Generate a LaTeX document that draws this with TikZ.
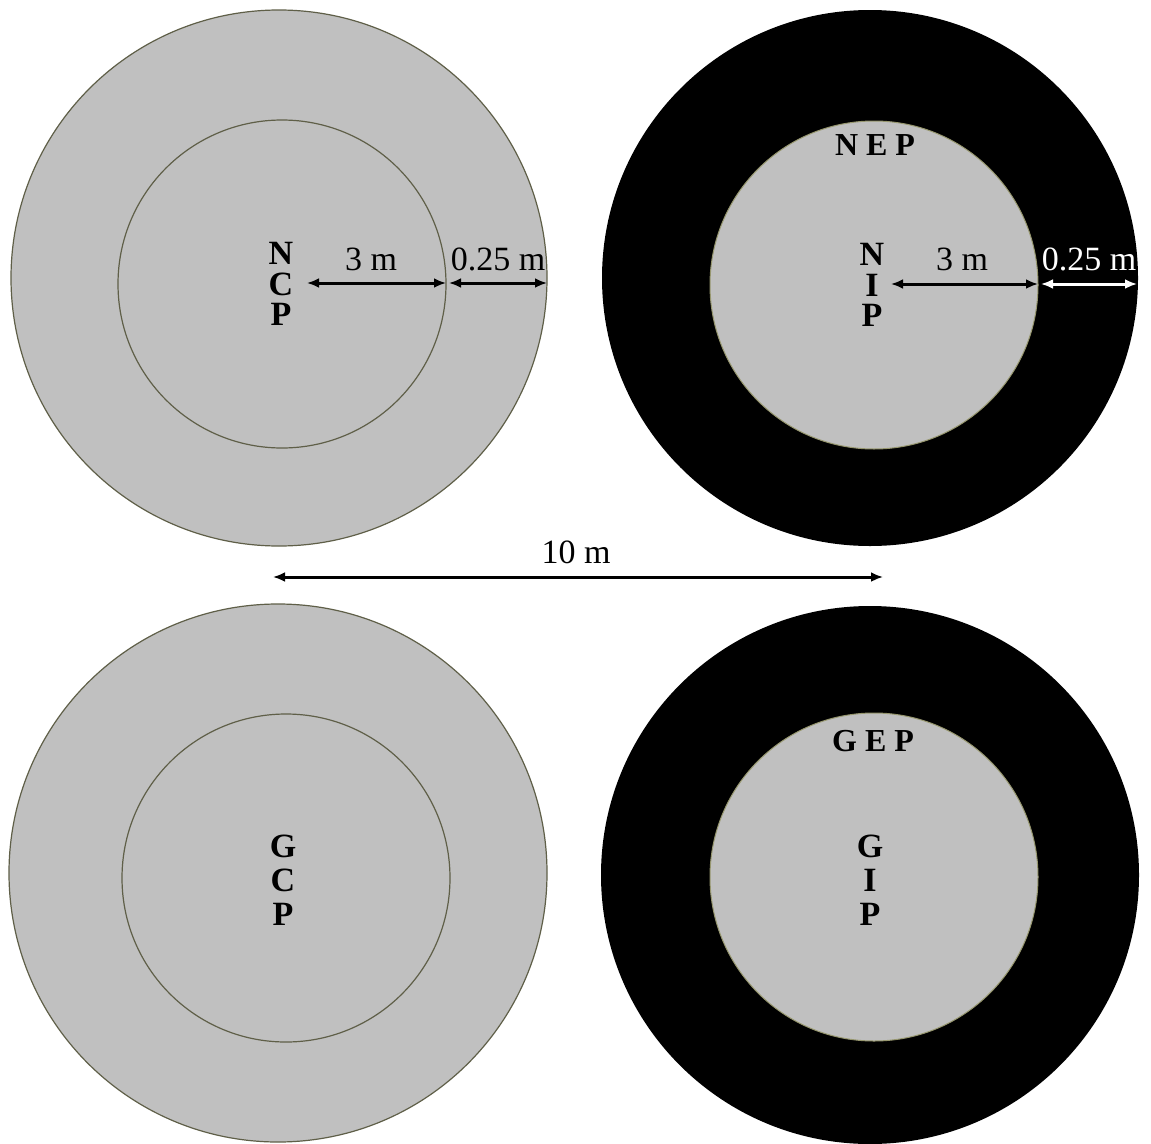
\documentclass[tikz,border=0pt]{standalone}
\usepackage{fontspec}
\setmainfont{Liberation Serif}
\usetikzlibrary{arrows.meta}
\definecolor{plotgray}{RGB}{192,192,192}
\definecolor{edgecol}{RGB}{95,95,72}
\definecolor{edgelight}{RGB}{150,150,110}
\begin{document}
\begin{tikzpicture}[x=1pt,y=-1pt,
  outline/.style={draw=edgecol,line width=1.2pt},
  innerline/.style={draw=edgelight,line width=1pt},
  dimarrow/.style={{Latex[length=12pt,width=10pt]}-{Latex[length=12pt,width=10pt]},line width=3pt},
  numlbl/.style={font=\fontsize{34}{40}\selectfont,inner sep=0pt,anchor=base},
  stacktop/.style={font=\fontsize{34}{30.5}\selectfont\bfseries,align=center,inner sep=0pt,anchor=center},
  stackbot/.style={font=\fontsize{34}{34}\selectfont\bfseries,align=center,inner sep=0pt,anchor=center},
  toplbl/.style={font=\fontsize{32}{40}\selectfont\bfseries,inner sep=0pt,anchor=base}]
\useasboundingbox[fill=white] (0,0) rectangle (1151,1143);

% top-left plot (NCP)
\draw[outline,fill=plotgray] (279,278) circle[radius=268];
\draw[outline] (282,284) circle[radius=164];
% top-right plot (NEP / NIP)
\fill[black] (870,278) circle[radius=268];
\draw[innerline,fill=plotgray] (874,285) circle[radius=164];
% bottom-left plot (GCP)
\draw[outline,fill=plotgray] (278,873) circle[radius=269];
\draw[outline] (286,878) circle[radius=164];
% bottom-right plot (GEP / GIP)
\fill[black] (870,875) circle[radius=269];
\draw[innerline,fill=plotgray] (874,877) circle[radius=164];

% dimension end points
\coordinate (tlA) at (307,283);
\coordinate (tlB) at (446,283);
\coordinate (tlC) at (449,283);
\coordinate (tlD) at (547,283);
\coordinate (trA) at (891,284);
\coordinate (trB) at (1038,284);
\coordinate (trC) at (1041,284);
\coordinate (trD) at (1137,284);
\coordinate (midA) at (273,577);
\coordinate (midB) at (883,577);

\draw[dimarrow] (tlA) -- (tlB);
\draw[dimarrow] (tlC) -- (tlD);
\draw[dimarrow] (trA) -- (trB);
\draw[dimarrow,white] (trC) -- (trD);
\draw[dimarrow] (midA) -- (midB);

% dimension labels
\node[numlbl] (tl3) at (371,270) {3 m};
\node[numlbl] (tl025) at (498,270) {0.25 m};
\node[numlbl] (tr3) at (962,270) {3 m};
\node[numlbl,text=white] (tr025) at (1089,270) {0.25 m};
\node[numlbl] (ten) at (576,563) {10 m};

% plot labels
\node[stacktop] (ncp) at (281,284) {N\\C\\P};
\node[toplbl] (nep) at (875,155) {N E P};
\node[stacktop] (nip) at (872,285) {N\\I\\P};
\node[stackbot] (gcp) at (283,880) {G\\C\\P};
\node[toplbl] (gep) at (873,751) {G E P};
\node[stackbot] (gip) at (870,880) {G\\I\\P};
\end{tikzpicture}
\end{document}
